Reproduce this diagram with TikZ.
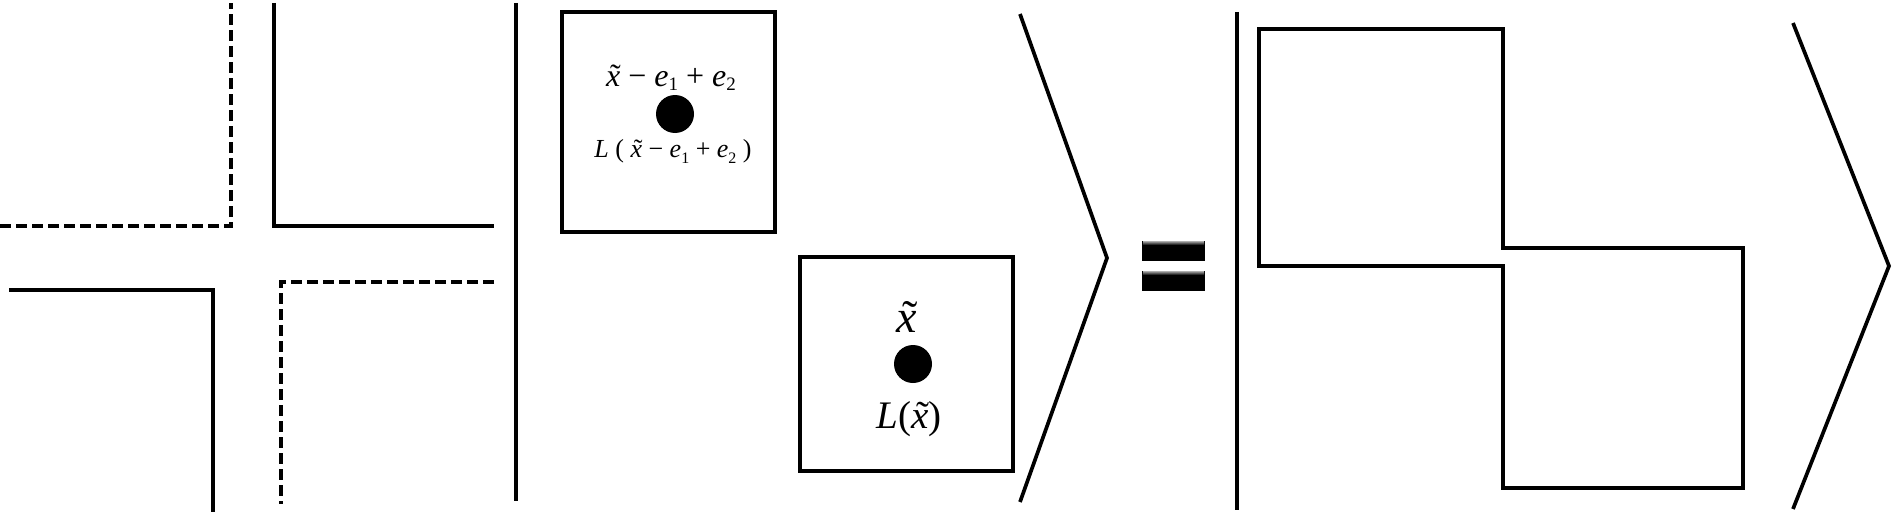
\documentclass[tikz,border=0pt]{standalone}
\usepackage{fontspec}
\setmainfont{Liberation Serif}
\newcommand\xtil{\ooalign{\itshape x\cr\hidewidth\kern0.14em\upshape\char"02DC\hidewidth\cr}}
\newcommand\sbs[3]{\raisebox{-#2pt}{\fontsize{#1}{#1}\selectfont #3}}
\tikzset{
  ln/.style={line width=3.7pt, line join=miter},
  dln/.style={ln, dash pattern=on 11pt off 5pt},
  poly/.style={line width=3.4pt, line join=miter},
  dotc/.style={fill=black},
  lab/.style={inner sep=0pt, anchor=base},
}
\begin{document}
\begin{tikzpicture}[x=1pt,y=-1pt]
\useasboundingbox (0,0) rectangle (1896,519);
% crossing corners
\draw[dln] (0,226) -- (231,226) -- (231,3);
\draw[ln] (274,3) -- (274,226) -- (494,226);
\draw[ln] (9,290) -- (213,290) -- (213,512);
\draw[dln] (494,282) -- (281,282) -- (281,504);
% left bar
\draw[ln] (516,3) -- (516,501);
% boxes
\draw[ln] (562,12) rectangle (775,232);
\draw[ln] (800,257) rectangle (1013,471);
\fill[dotc] (675,114) circle (19);
\fill[dotc] (913,364) circle (19);
\node[lab, font=\fontsize{32}{36}\selectfont] (t1) at (671,87) {\xtil\ −\ \textit{e}\sbs{19}{3}{1}\ +\ \textit{e}\sbs{19}{3}{2}};
\node[lab, font=\fontsize{26}{30}\selectfont] (t2) at (673,157) {\textit{L}\ (\ \xtil\ −\ \textit{e}\sbs{16}{6}{1}\ +\ \textit{e}\sbs{16}{6}{2}\ )};
\node[lab, font=\fontsize{46}{50}\selectfont] (t3) at (907,332) {\xtil};
\node[lab, font=\fontsize{39}{43}\selectfont] (t4) at (909,428) {\textit{L}(\xtil)};
% first chevron
\draw[ln] (1020,14) -- (1107,258) -- (1020,502);
% equals sign
\fill[black] (1142,241) rectangle (1205,261);
\fill[black] (1142,271) rectangle (1205,291);
\shade[top color=gray!80, bottom color=black] (1143,241.5) rectangle (1204,245);
\shade[top color=gray!80, bottom color=black] (1143,271.5) rectangle (1204,275);
% right bar
\draw[ln] (1237,12) -- (1237,510);
% polygon
\draw[poly] (1259,29) -- (1503,29) -- (1503,248) -- (1743,248) -- (1743,488) -- (1503,488) -- (1503,266) -- (1259,266) -- cycle;
% second chevron
\draw[ln] (1793,23) -- (1889,266) -- (1793,509);
\end{tikzpicture}
\end{document}
